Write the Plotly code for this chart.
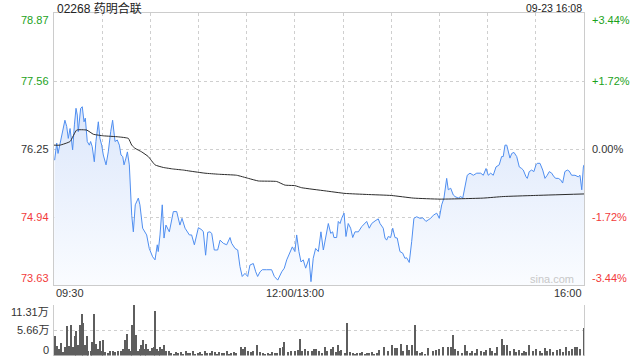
import plotly.graph_objects as go

# ---------------- data ----------------
title_text = "02268 药明合联"
stamp_text = "09-23 16:08"
prev_close = 76.25
price_ticks = [78.87, 77.56, 76.25, 74.94, 73.63]
pct_ticks = ["+3.44%", "+1.72%", "0.00%", "-1.72%", "-3.44%"]
x_tick_pos = [0, 150, 330]
x_tick_labels = ["09:30", "12:00/13:00", "16:00"]
vol_ticks = [11.31, 5.655, 0]
vol_tick_labels = ["11.31万", "5.66万", "0"]

# minutes of trading time since 09:30 (lunch break removed)
price_t = [0.4,1.7,2.5,5.8,6.8,7.9,8.9,10.0,11.0,11.6,12.7,13.7,14.5,15.1,16.6,17.6,18.7,19.5,20.7,22.0,
           22.8,23.8,25.1,26.1,27.6,28.6,29.7,30.7,32.4,33.8,35.3,36.5,38.0,39.4,40.7,41.7,42.8,43.6,44.8,45.7,
           46.9,48.4,49.4,50.6,52.5,53.5,55.2,57.7,59.3,60.2,61.4,62.9,64.3,64.9,66.0,67.4,68.5,69.7,71.8,74.3,
           76.4,78.4,79.7,81.6,84.3,
           85.7,87.4,89.9,92.0,93.0,94.4,95.7,97.1,98.2,99.8,101.9,103.4,105.4,107.5,109.6,110.6,112.7,114.4,115.8,117.2,
           118.9,120.6,122.0,124.1,125.6,126.8,128.3,129.7,132.4,135.5,137.2,139.3,141.8,143.4,144.9,146.9,148.4,150.0,151.1,152.5,
           153.8,155.2,156.7,158.8,160.0,161.4,162.9,164.6,166.2,
           167.7,168.7,170.8,172.3,173.5,174.3,176.0,177.0,178.1,179.1,180.6,181.8,183.2,184.7,186.0,187.4,189.5,191.6,193.6,194.7,
           196.3,197.8,199.9,201.9,203.0,205.0,206.1,207.1,208.1,209.6,210.9,212.3,213.7,215.4,217.1,218.5,219.6,221.2,222.7,224.1,
           225.8,227.9,229.6,231.6,233.0,234.5,236.2,238.3,239.9,241.4,242.8,244.5,245.5,247.0,248.6,
           249.7,251.7,253.2,254.5,255.9,257.3,259.0,261.1,263.2,265.7,267.3,269.0,270.4,271.9,273.5,275.2,277.2,278.7,279.7,280.8,
           281.9,282.9,283.9,285.0,286.4,288.1,289.7,291.2,292.2,293.9,294.7,295.9,297.4,298.8,300.1,300.9,302.6,304.3,305.7,307.1,
           308.4,309.9,311.3,312.5,314.0,315.5,316.7,318.1,319.6,320.8,322.3,324.4,326.4,327.5,328.6,329.6,330.0]
price = [76.04,76.37,76.17,76.65,76.81,76.69,76.46,76.65,76.40,76.24,76.72,77.04,76.91,76.59,77.04,77.07,76.78,76.85,76.40,76.33,
         76.40,76.30,76.01,76.40,76.78,76.46,76.33,76.14,75.95,76.20,76.59,76.81,76.40,76.43,76.33,76.14,76.11,75.95,76.08,76.20,
         75.95,74.98,74.66,75.18,75.31,75.18,74.73,74.60,74.34,74.28,74.18,74.12,74.41,74.28,74.60,75.18,74.54,74.79,74.66,75.05,
         75.05,74.79,74.92,74.73,74.60,
         74.60,74.41,74.74,74.70,74.66,74.21,74.65,74.66,74.63,74.31,74.31,74.50,74.44,74.41,74.55,74.44,74.34,74.31,73.99,73.80,
         73.86,73.80,74.02,74.05,73.89,73.80,73.89,73.93,73.93,73.93,73.80,73.73,73.89,73.96,74.12,74.28,74.37,74.28,74.60,74.28,
         74.08,74.12,73.96,74.15,73.70,74.15,74.34,74.28,74.66,
         74.31,74.47,74.82,74.63,74.66,74.55,74.55,74.86,74.82,74.92,75.02,74.57,74.82,74.73,74.55,74.66,74.66,74.76,74.82,74.86,
         74.73,74.82,74.87,74.91,74.82,74.73,74.54,74.50,74.57,74.55,74.73,74.55,74.54,74.28,74.25,74.15,74.16,74.07,74.47,74.92,
         74.95,74.92,74.93,74.86,74.89,74.92,74.98,75.02,74.92,75.18,75.31,75.69,75.47,75.50,75.37,
         75.34,75.31,75.34,75.31,75.56,75.75,75.79,75.75,75.79,75.79,75.75,75.88,75.75,75.79,75.75,75.91,75.95,76.11,76.11,76.33,
         76.33,76.17,76.08,76.17,76.19,76.11,75.91,75.88,75.85,75.72,75.69,75.82,75.85,75.82,75.95,75.98,75.98,75.85,75.69,75.75,
         75.82,75.79,75.72,75.69,75.69,75.66,75.60,75.82,75.85,75.83,75.75,75.75,75.72,75.75,75.47,75.91,75.95]

avg_t = [0,3.7,10.0,14.1,20.4,24.5,30.7,40.0,46.3,48.4,50.4,54.6,58.7,62.9,68.1,74.3,80.5,84.7,94.0,102.3,
         113.7,121.0,127.2,138.6,143.8,150.0,154.2,168.7,181.2,194.7,210.2,223.7,240.3,267.3,279.7,298.4,330.0]
avg_price = [76.33,76.33,76.40,76.62,76.62,76.54,76.51,76.49,76.46,76.33,76.27,76.20,76.11,75.95,75.90,75.87,75.85,75.83,75.79,75.77,
             75.75,75.69,75.64,75.63,75.56,75.55,75.51,75.45,75.40,75.38,75.36,75.31,75.29,75.31,75.34,75.36,75.39]

vol_t = [0.7,2.2,3.3,4.4,5.5,7.2,8.2,9.3,10.4,11.9,13.0,14.0,15.1,16.0,17.3,18.3,19.4,20.5,21.5,22.8,
         23.9,25.0,26.1,27.6,28.6,29.7,30.8,31.9,33.6,35.1,36.6,38.3,40.0,41.5,43.0,44.3,45.6,46.9,47.7,48.8,
         50.1,51.0,52.3,53.3,54.4,55.5,56.5,57.6,58.7,59.8,61.1,62.1,63.2,64.1,65.3,66.2,67.5,68.8,70.1,71.6,
         73,74.5,76,77.5,79,80.5,82,83.5,85,86.5,88,89.5,91,92.5,94,95.5,97,98.5,100,101.5,103,104.5,106,107.5,109,110.5,112,113.5,
         116.2,117.7,119.0,121.0,122.5,124.2,126.5,128.5,130,131.5,133,134.5,136,137.5,139,
         140.9,142.4,143.5,145.6,147.4,150.0,151.7,153.0,154.2,156.4,158.5,160.7,162.0,163.5,165.0,167.1,168.6,170.3,172.5,174.0,
         175.7,177.0,177.9,178.9,181.1,182.8,184.3,
         186,187.5,189,190.5,192,193.5,195,196.5,198,199.5,201,202.5,
         205.8,207.9,210.7,212.2,213.9,215.9,217.6,219.7,220.8,222.9,224.7,226.2,228,229.5,231,233,235.8,238.0,239.7,242.3,
         245.5,247.0,248.3,249.8,251.9,254.1,255.8,257.3,259.0,260.5,262.0,263.7,265.9,267.6,269.1,271.3,272.8,274.5,276.2,278.8,
         280.5,282.0,284.1,286.3,287.8,289.5,291.2,292.7,294.2,295.9,298.1,300.2,302.4,304.1,305.6,307.1,308.8,311.0,313.1,315.3,
         317.0,318.9,320.6,322.8,324.3,326.0,327.5,330.0]
vol = [4.3,2.2,1.5,2.8,0.7,2.0,6.6,2.2,6.8,2.0,4.3,5.4,2.3,6.8,9.3,7.2,2.4,4.3,0.9,1.1,
       3.0,9.3,2.6,1.5,3.2,1.1,3.5,0.7,0.6,1.1,0.9,0.7,1.1,0.9,1.5,3.4,4.9,1.5,1.1,6.9,
       11.31,4.7,1.1,1.5,2.3,3.4,1.5,2.6,1.5,1.1,1.7,1.9,9.95,1.5,1.1,1.9,1.4,2.3,0.9,0.9,
       0.6,0.4,0.8,0.5,0.7,0.3,0.9,0.5,0.6,1.0,0.4,0.6,0.8,0.3,1.1,0.6,0.5,0.9,0.7,0.4,0.8,0.6,0.5,0.9,0.4,0.6,0.8,0.5,
       1.9,1.5,1.9,0.9,0.7,1.1,2.3,0.7,0.5,0.4,0.6,0.3,0.7,0.5,0.6,
       1.7,1.9,3.0,0.7,1.1,0.9,1.3,3.6,1.1,1.5,1.1,0.9,1.4,1.5,0.9,0.6,1.9,1.1,1.5,1.9,
       0.7,2.4,1.1,1.3,0.6,7.2,0.7,
       0.5,0.4,0.6,0.5,0.7,0.4,0.6,0.5,0.8,0.4,0.6,1.3,
       1.9,1.1,2.3,1.7,1.7,2.6,1.1,2.3,1.3,2.3,6.9,0.9,0.5,0.7,0.4,1.7,0.9,1.3,1.5,1.9,
       1.9,1.9,4.5,1.5,1.1,0.6,2.3,0.9,0.6,1.1,0.5,1.5,1.1,0.7,1.3,1.7,1.1,0.6,1.9,3.6,
       2.4,2.3,1.1,1.5,0.7,1.3,0.6,1.1,0.7,2.4,0.9,1.5,1.1,0.6,1.7,0.9,1.5,0.7,1.3,1.5,
       0.8,1.9,1.1,1.5,1.9,1.9,1.5,6.2]

# ---------------- styling ----------------
W, H = 640, 360
FONT = "Liberation Sans, Arial, Noto Sans CJK SC, sans-serif"
GREEN = "#1ba21b"
RED = "#f23b3b"
DARK = "#333333"
GRID = "#cfcfcf"
BORDER = "#cccccc"
LINE_BLUE = "#4f8ef0"

x_dom = [54 / W, 584 / W]
y_main = [1 - 285.3 / H, 1 - 13.3 / H]
y_vol = [1 - 355.5 / H, 1 - 305 / H]
p_lo, p_hi = min(price_ticks), max(price_ticks)
t_max = 330

fig = go.Figure()

# baseline for the area fill
fig.add_trace(go.Scatter(x=[0, t_max], y=[p_lo, p_lo], mode="lines",
                         line=dict(width=0, color="rgba(0,0,0,0)"), hoverinfo="skip",
                         showlegend=False, xaxis="x", yaxis="y"))
fig.add_trace(go.Scatter(x=price_t, y=price, mode="lines", fill="tonexty",
                         fillgradient=dict(type="vertical",
                                           colorscale=[[0, "rgba(250,252,255,1)"], [1, "rgba(220,231,251,1)"]],
                                           start=p_lo, stop=77.1),
                         line=dict(color=LINE_BLUE, width=1), showlegend=False,
                         xaxis="x", yaxis="y"))
fig.add_trace(go.Scatter(x=avg_t, y=avg_price, mode="lines",
                         line=dict(color="#2b2b2b", width=1, shape="spline", smoothing=0.4),
                         showlegend=False, xaxis="x", yaxis="y"))
fig.add_trace(go.Bar(x=vol_t, y=vol, width=0.75, marker=dict(color="#5e5e5e", line=dict(width=0)),
                     showlegend=False, xaxis="x2", yaxis="y2"))

annotations = []
# title and timestamp
annotations.append(dict(text=title_text, xref="paper", yref="paper", x=55 / W, y=1 - 8 / H,
                        xanchor="left", yanchor="middle", showarrow=False,
                        font=dict(family=FONT, size=12, color="#222222")))
annotations.append(dict(text=stamp_text, xref="paper", yref="paper", x=584 / W, y=1 - 8 / H,
                        xanchor="right", yanchor="middle", showarrow=False,
                        font=dict(family=FONT, size=10.5, color="#222222")))

def tick_color(v):
    if abs(v - prev_close) < 1e-6:
        return DARK
    return GREEN if v > prev_close else RED

for v, pct in zip(price_ticks, pct_ticks):
    shift = -7 if v == p_hi else (7 if v == p_lo else 0)
    c = tick_color(v)
    annotations.append(dict(text=f"{v:.2f}", xref="paper", yref="y", x=51 / W, y=v, yshift=shift,
                            xanchor="right", yanchor="middle", showarrow=False,
                            font=dict(family=FONT, size=11, color=c)))
    annotations.append(dict(text=pct, xref="paper", yref="y", x=590 / W, y=v, yshift=shift,
                            xanchor="left", yanchor="middle", showarrow=False,
                            font=dict(family=FONT, size=11, color=c)))

anchors = ["left", "center", "right"]
for xv, lab, an in zip(x_tick_pos, x_tick_labels, anchors):
    annotations.append(dict(text=lab, xref="x", yref="paper", x=xv, y=1 - 293 / H,
                            xanchor=an, yanchor="middle", showarrow=False,
                            font=dict(family=FONT, size=11, color=DARK)))

for v, lab in zip(vol_ticks, vol_tick_labels):
    shift = -6.5 if v == max(vol_ticks) else (6 if v == 0 else 0)
    annotations.append(dict(text=lab, xref="paper", yref="y2", x=51 / W, y=v, yshift=shift,
                            xanchor="right", yanchor="middle", showarrow=False,
                            font=dict(family=FONT, size=11, color=DARK)))

annotations.append(dict(text="sina.com", xref="paper", yref="paper", x=552 / W, y=1 - 279 / H,
                        xanchor="center", yanchor="middle", showarrow=False,
                        font=dict(family=FONT, size=11, color="#c8c8c8")))

fig.update_layout(
    width=W, height=H, margin=dict(l=0, r=0, t=0, b=0),
    paper_bgcolor="white", plot_bgcolor="white",
    showlegend=False, bargap=0,
    annotations=annotations,
    xaxis=dict(domain=x_dom, range=[0, t_max], anchor="y",
               tickvals=list(range(30, t_max, 30)), showticklabels=False, ticks="",
               showgrid=True, gridcolor=GRID, griddash="dot", gridwidth=1,
               showline=True, mirror=True, linecolor=BORDER, linewidth=1, zeroline=False),
    yaxis=dict(domain=y_main, range=[p_lo, p_hi], anchor="x",
               tickvals=price_ticks[1:-1], showticklabels=False, ticks="",
               showgrid=True, gridcolor=GRID, griddash="dot", gridwidth=1,
               showline=True, mirror=True, linecolor=BORDER, linewidth=1, zeroline=False),
    xaxis2=dict(domain=x_dom, range=[0, t_max], anchor="y2",
                showticklabels=False, ticks="", showgrid=False, showline=False, zeroline=False),
    yaxis2=dict(domain=y_vol, range=[0, max(vol_ticks)], anchor="x2",
                tickvals=vol_ticks[:2], showticklabels=False, ticks="",
                showgrid=True, gridcolor=GRID, griddash="dot", gridwidth=1,
                showline=True, mirror=True, linecolor=BORDER, linewidth=1, zeroline=False),
)

fig.write_html("out.html")
